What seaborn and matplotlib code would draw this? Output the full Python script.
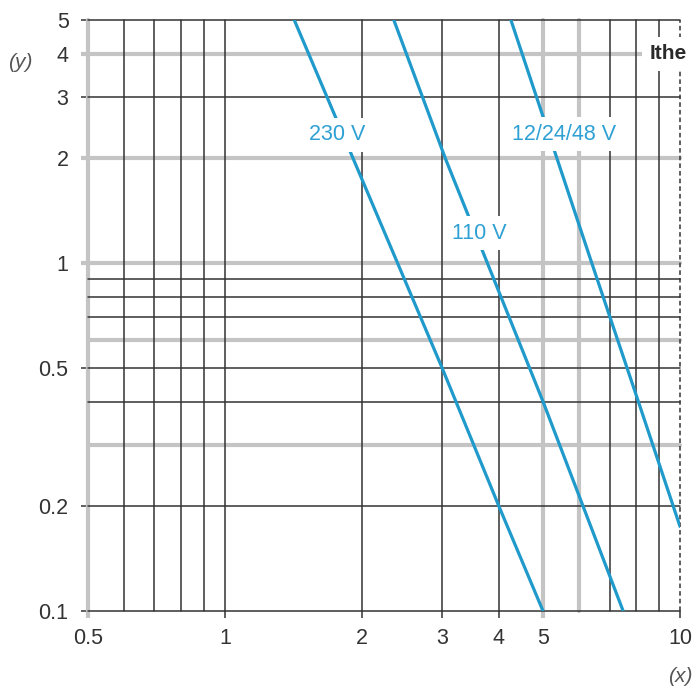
import numpy as np
import pandas as pd
import matplotlib
matplotlib.use("Agg")
import matplotlib.pyplot as plt
import seaborn as sns
from matplotlib.ticker import NullLocator

# ---- data ----
series_names = ["230 V", "110 V", "12/24/48 V"]
x_230 = [1.42, 3.0, 4.0, 5.0]
y_230 = [5.0, 0.5, 0.2, 0.1]
x_110 = [2.35, 3.05, 5.0, 7.5]
y_110 = [5.0, 2.0, 0.4, 0.1]
x_12 = [4.25, 6.4, 8.1, 10.0]
y_12 = [5.0, 1.0, 0.4, 0.175]

x_ticks = [0.5, 1, 2, 3, 4, 5, 10]
x_tick_labels = ["0.5", "1", "2", "3", "4", "5", "10"]
y_ticks = [0.1, 0.2, 0.5, 1, 2, 3, 4, 5]
y_tick_labels = ["0.1", "0.2", "0.5", "1", "2", "3", "4", "5"]

x_grid_gray = [0.5, 5, 6]
x_grid_black = [0.6, 0.7, 0.8, 0.9, 1, 2, 3, 4, 7, 8, 9]
x_grid_dashed = [10]
y_grid_gray = [4, 2, 1, 0.6, 0.3]
y_grid_black = [5, 3, 0.9, 0.8, 0.7, 0.5, 0.4, 0.2, 0.1]

# label anchor values
label_pos = {"230 V": (1.76, 2.34), "110 V": (3.62, 1.22), "12/24/48 V": (5.55, 2.35)}

df = pd.DataFrame({
    "series": [series_names[0]] * len(x_230) + [series_names[1]] * len(x_110) + [series_names[2]] * len(x_12),
    "x": x_230 + x_110 + x_12,
    "y": y_230 + y_110 + y_12,
})

# ---- style ----
sns.set_theme(style="white")
plt.rcParams["font.family"] = ["Liberation Sans", "DejaVu Sans"]

BLUE = "#1f9acb"
TXT_BLUE = "#2fa0d4"
GRAY = "#c4c4c4"
BLACK = "#333333"
LW_GRAY = 3.0
LW_BLACK = 1.1
FS = 15.5

fig = plt.figure(figsize=(7, 7), dpi=100)
ax = fig.add_axes([88 / 700, 89 / 700, 592 / 700, 591 / 700])
ax.set_xscale("log")
ax.set_yscale("log")
ax.set_xlim(0.5, 10)
ax.set_ylim(0.1, 5)

for v in x_grid_gray:
    ax.axvline(v, color=GRAY, lw=LW_GRAY, zorder=1, clip_on=False)
for v in y_grid_gray:
    ax.axhline(v, color=GRAY, lw=LW_GRAY, zorder=1, clip_on=False)
for v in x_grid_black:
    ax.axvline(v, color=BLACK, lw=LW_BLACK, zorder=2, clip_on=False)
for v in y_grid_black:
    ax.axhline(v, color=BLACK, lw=LW_BLACK, zorder=2, clip_on=False)
for v in x_grid_dashed:
    ax.axvline(v, color=BLACK, lw=LW_BLACK, ls=(0, (3, 2)), zorder=2, clip_on=False)

sns.lineplot(data=df, x="x", y="y", hue="series", units="series", estimator=None,
             sort=False, palette={s: BLUE for s in series_names}, lw=2.3,
             legend=False, ax=ax, zorder=3)

for s in series_names:
    lx, ly = label_pos[s]
    ax.text(lx, ly, s, color=TXT_BLUE, fontsize=FS, ha="center", va="center", zorder=5,
            bbox=dict(boxstyle="square,pad=0.3", fc="white", ec="none"))

ax.annotate("Ithe", xy=(10, 4), xytext=(5, 0), textcoords="offset points",
            ha="right", va="center", fontsize=FS - 0.5, fontweight="bold", color="#2a2a2a",
            zorder=5, bbox=dict(boxstyle="square,pad=0.35", fc="white", ec="none"),
            annotation_clip=False)

for sp in ax.spines.values():
    sp.set_visible(False)

ax.xaxis.set_minor_locator(NullLocator())
ax.yaxis.set_minor_locator(NullLocator())
ax.set_xticks(x_ticks, x_tick_labels)
ax.set_yticks(y_ticks, y_tick_labels)
ax.tick_params(axis="x", length=5, pad=7, labelsize=FS, labelcolor=BLACK, bottom=True)
ax.tick_params(axis="y", length=5, pad=9, labelsize=FS, labelcolor=BLACK, left=True)

for tick, v in zip(ax.xaxis.get_major_ticks(), x_ticks):
    gray = v in x_grid_gray
    tick.tick1line.set_markeredgecolor(GRAY if gray else BLACK)
    tick.tick1line.set_markeredgewidth(LW_GRAY if gray else LW_BLACK)
for tick, v in zip(ax.yaxis.get_major_ticks(), y_ticks):
    gray = v in y_grid_gray
    tick.tick1line.set_markeredgecolor(GRAY if gray else BLACK)
    tick.tick1line.set_markeredgewidth(LW_GRAY if gray else LW_BLACK)

ax.set_xlabel("")
ax.set_ylabel("")
fig.text(20 / 700, 1 - 62 / 700, "(y)", fontsize=15, style="italic", color="#555555",
         ha="center", va="center")
fig.text(680 / 700, 1 - 677 / 700, "(x)", fontsize=15, style="italic", color="#555555",
         ha="center", va="center")

fig.savefig("out.png", dpi=100, facecolor="white")
